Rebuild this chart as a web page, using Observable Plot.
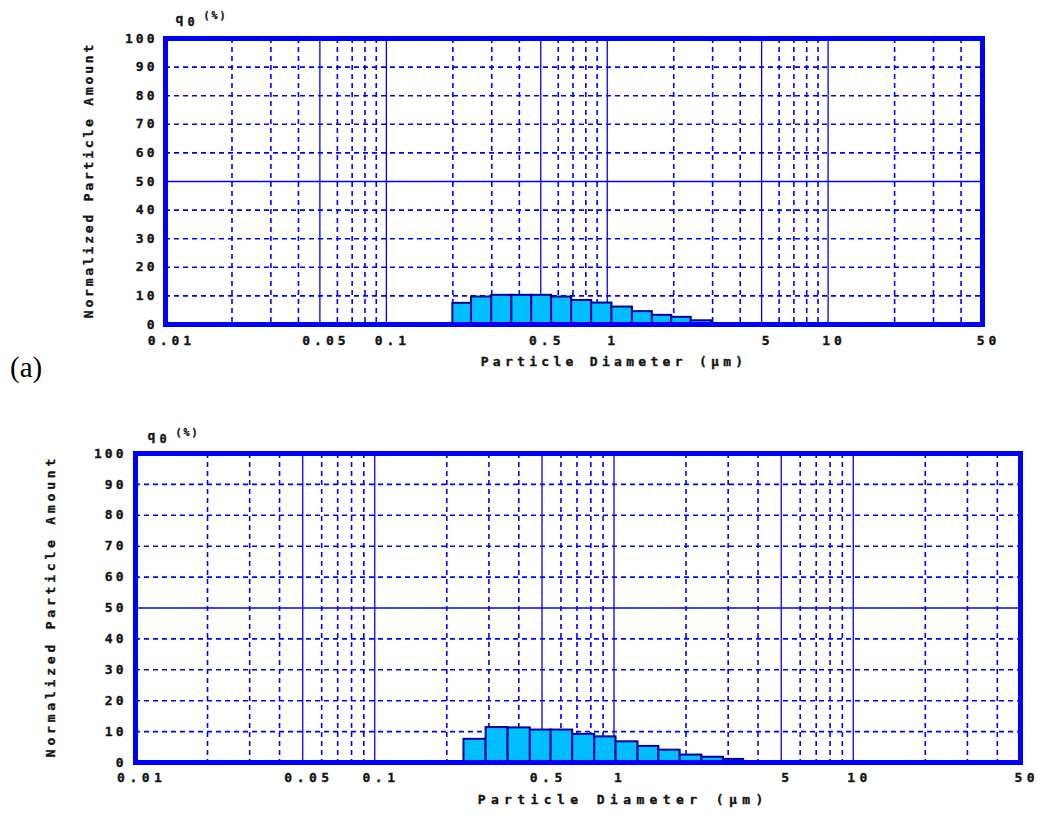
<!DOCTYPE html>
<html><head><meta charset="utf-8">
<script src="https://cdn.jsdelivr.net/npm/d3@7"></script>
<script src="https://cdn.jsdelivr.net/npm/@observablehq/plot@0.6"></script>
<style>
body{margin:0;background:#fff;}
#wrap{position:relative;width:1038px;height:820px;overflow:hidden;background:#fff;}
#wrap svg{display:block;}
#wrap svg text{stroke:#141414;stroke-width:0.35px;}
#tag{position:absolute;left:10px;top:351px;font-family:"Liberation Serif","Times New Roman",serif;font-size:29px;color:#000;}
</style></head><body><div id="wrap"><div id="tag">(a)</div></div>
<script>
// tick values and labels
const xTicks = [0.01, 0.05, 0.1, 0.5, 1, 5, 10, 50];
const xTickLabels = ["0.01", "0.05", "0.1", "0.5", "1", "5", "10", "50"];
const yTicks = [0, 10, 20, 30, 40, 50, 60, 70, 80, 90, 100];
// grid lines
const majorX = [0.05, 0.1, 0.5, 1, 5, 10];
const minorX = [0.02, 0.03, 0.04, 0.06, 0.07, 0.08, 0.09, 0.2, 0.3, 0.4, 0.6, 0.7, 0.8, 0.9, 2, 3, 4, 6, 7, 8, 9, 20, 30, 40];
const majorY = [50];
const minorY = [10, 20, 30, 40, 60, 70, 80, 90];
// (a) top chart: bin edges (µm) and normalized amounts (%)
const topEdges = [0.2, 0.243, 0.3, 0.37, 0.455, 0.56, 0.69, 0.85, 1.05, 1.3, 1.6, 1.96, 2.4, 2.98];
const topValues = [7.4, 9.6, 10.2, 10.2, 10.2, 9.6, 8.4, 7.5, 6.1, 4.5, 3.2, 2.5, 1.3];
// bottom chart
const bottomEdges = [0.236, 0.292, 0.361, 0.447, 0.546, 0.672, 0.831, 1.02, 1.26, 1.54, 1.89, 2.33, 2.87, 3.48];
const bottomValues = [7.5, 11.3, 11.2, 10.5, 10.5, 9.1, 8.3, 6.7, 5.2, 4.0, 2.4, 1.7, 1.0];

const BLUE = "#0000ff";

function bins(edges, values) {
  return values.map((v, i) => ({x1: edges[i], x2: edges[i + 1], y: v}));
}

function chart(o) {
  const svg = Plot.plot({
    width: 1038,
    height: o.height,
    marginLeft: o.ml, marginRight: o.mr, marginTop: o.mt, marginBottom: o.mb,
    style: {fontFamily: "'DejaVu Sans Mono', monospace", fontWeight: "bold", fontSize: "13px", color: "#141414", background: "#fff"},
    x: {type: "log", domain: [0.01, 50], axis: null},
    y: {domain: [0, 100], axis: null},
    marks: [
      Plot.ruleX(minorX, {stroke: BLUE, strokeWidth: 1.6, strokeDasharray: "5,4"}),
      Plot.ruleY(minorY, {stroke: BLUE, strokeWidth: 1.6, strokeDasharray: "5,4"}),
      Plot.ruleX(majorX, {stroke: BLUE, strokeWidth: 1.3}),
      Plot.ruleY(majorY, {stroke: BLUE, strokeWidth: 1.3}),
      Plot.rectY(bins(o.edges, o.values), {x1: "x1", x2: "x2", y: "y", fill: "#00bfff", stroke: "#00009c", strokeWidth: 2}),
      Plot.frame({stroke: BLUE, strokeWidth: 5}),
      // x tick labels
      Plot.text(xTicks, {x: d => d, text: (d, i) => xTickLabels[i], frameAnchor: "bottom", lineAnchor: "top", dy: o.xtdy, dx: 4 + o.lsX / 2, ariaDescription: "xticks"}),
      // y tick labels
      Plot.text(yTicks, {y: d => d, text: d => String(d), frameAnchor: "left", textAnchor: "end", dx: -o.ytpad + o.lsY, ariaDescription: "yticks"}),
      // q0(%)
      Plot.text(["q"], {frameAnchor: "top-left", textAnchor: "start", dx: o.qdx, dy: o.qdy}),
      Plot.text(["0"], {frameAnchor: "top-left", textAnchor: "start", dx: o.qdx + 12, dy: o.qdy + 4, fontSize: 12}),
      Plot.text(["(%)"], {frameAnchor: "top-left", textAnchor: "start", dx: o.qdx + 28, dy: o.qdy - 1.5, fontSize: 10, ariaDescription: "pct"}),
      // axis titles
      Plot.text(["Normalized Particle Amount"], {frameAnchor: "left", rotate: -90, textAnchor: "middle", dx: o.ydx, dy: -o.lsV / 2, ariaDescription: "ylabel"}),
      Plot.text([{x: o.xlabX, t: "Particle Diameter (μm)"}], {x: "x", text: "t", frameAnchor: "bottom", dy: o.xdy, dx: o.lsL / 2, ariaDescription: "xlabel"})
    ]
  });
  const ls = {xticks: o.lsX, yticks: o.lsY, pct: 2, ylabel: o.lsV, xlabel: o.lsL};
  for (const [k, v] of Object.entries(ls)) {
    svg.querySelectorAll(`g[aria-description="${k}"]`).forEach(g => g.style.letterSpacing = v + "px");
  }
  return svg;
}

const wrap = document.getElementById("wrap");
wrap.appendChild(chart({
  height: 400, ml: 165, mr: 56, mt: 38, mb: 76,
  edges: topEdges, values: topValues,
  xtdy: 11, ytpad: 11, qdx: 10, qdy: -25, ydx: -77, xdy: 41, xlabX: 1.05,
  lsX: 4, lsY: 3, lsV: 2.8, lsL: 4.3
}));
wrap.appendChild(chart({
  height: 420, ml: 135, mr: 18, mt: 53, mb: 58,
  edges: bottomEdges, values: bottomValues,
  xtdy: 10, ytpad: 12, qdx: 12, qdy: -23, ydx: -85, xdy: 41, xlabX: 1.064,
  lsX: 4.5, lsY: 3, lsV: 3.8, lsL: 5.4
}));
</script>
</body></html>
